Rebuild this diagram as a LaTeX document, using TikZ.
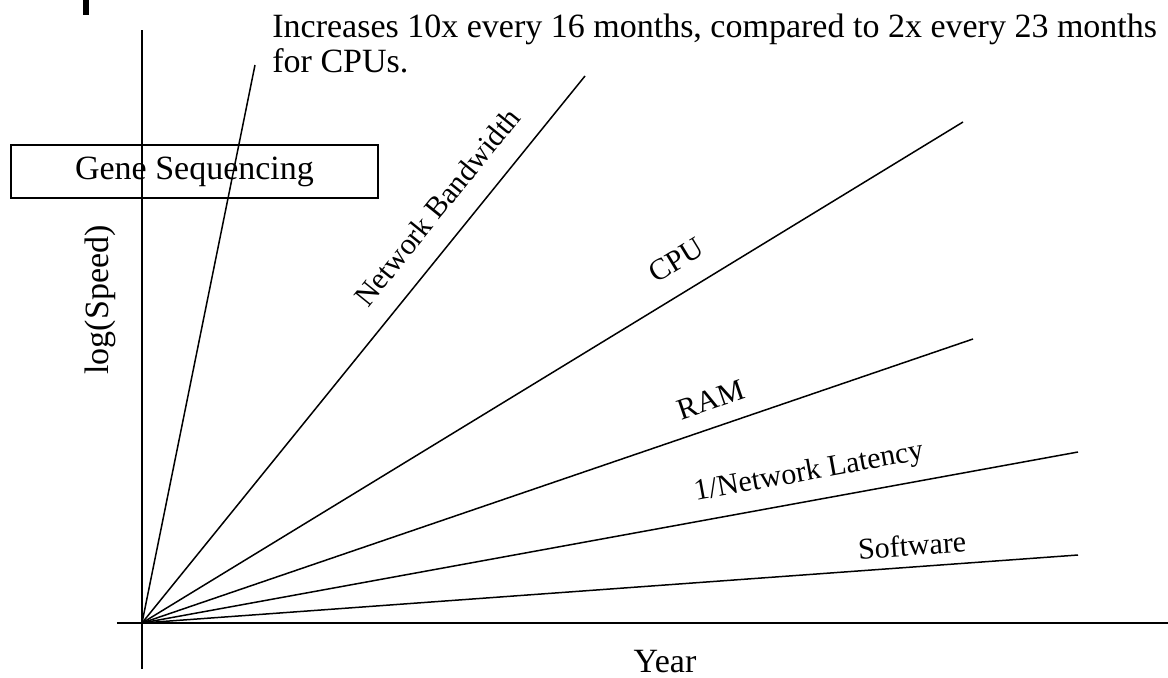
\documentclass[tikz,border=0pt]{standalone}
\usepackage{fontspec}
\setmainfont{Liberation Serif}
\usetikzlibrary{positioning}

\begin{document}
\begin{tikzpicture}[
    x=0.5pt, y=0.5pt,
    axis/.style={line width=0.75pt},
    trend/.style={line width=0.75pt},
    lbl/.style={inner sep=0pt,font=\fontsize{15}{16}\selectfont},
    title/.style={inner sep=0pt,font=\fontsize{17}{18}\selectfont},
    note/.style={inner sep=0pt,align=left,font=\fontsize{17}{17.5}\selectfont},
    box/.style={draw,line width=0.75pt,minimum width=183.5pt,minimum height=26.5pt,font=\fontsize{17}{18}\selectfont}
]
\useasboundingbox (-142,-54) rectangle (1026,623);

% Axes
\coordinate (O) at (0,0);
\coordinate (ybot) at (0,-46);
\coordinate (ytop) at (0,593);
\coordinate (xleft) at (-25,0);
\coordinate (xright) at (1026,0);
\draw[axis] (ybot) -- (ytop);
\draw[axis] (xleft) -- (xright);

% Growth lines, all from the origin
\coordinate (gene) at (113,558);
\coordinate (bw) at (443,547);
\coordinate (cpu) at (821,501);
\coordinate (ram) at (831,284);
\coordinate (lat) at (936,171);
\coordinate (sw) at (936,68);
\foreach \p in {gene,bw,cpu,ram,lat,sw}
    \draw[trend] (O) -- (\p);

% Line labels
\node[lbl,rotate=51] (bwlbl) at (295,416) {Network Bandwidth};
\node[lbl,rotate=31.4] (cpulbl) at (534,363) {CPU};
\node[lbl,rotate=18.9] (ramlbl) at (569,223) {RAM};
\node[lbl,rotate=10.35] (latlbl) at (667,150) {1/Network Latency};
\node[lbl,rotate=4.15] (swlbl) at (770,78) {Software};

% Axis titles
\node[title] (xlbl) at (523,-39) {Year};
\node[title,rotate=90] (ylbl) at (-42,323) {log(Speed)};

% Gene sequencing box and note
\node[box] (genebox) at (52.5,451.5) {Gene Sequencing};
\node[note,anchor=north west] (genenote) at (130,609)
    {Increases 10x every 16 months, compared to 2x every 23 months\\for CPUs.};

\fill (-59,608) rectangle (-53,623);
\end{tikzpicture}
\end{document}
